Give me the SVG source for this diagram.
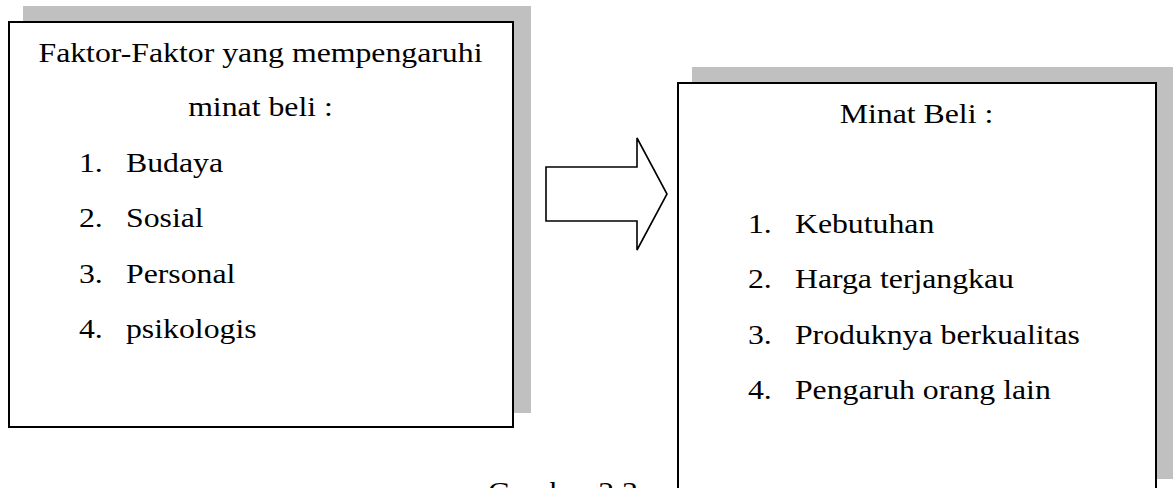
<svg xmlns="http://www.w3.org/2000/svg" width="1176" height="488" viewBox="0 0 1176 488">
<style>
.shadow{fill:#c0c0c0;stroke:none}
.box{fill:#fff;stroke:#000;stroke-width:2}
.arrow{fill:#fff;stroke:#000;stroke-width:1.6;stroke-linejoin:miter}
text{font-family:"Liberation Serif","Times New Roman",serif;font-size:28px;fill:#000}
.c{text-anchor:middle}
</style>
<rect width="1176" height="488" fill="#fff"/>
<g id="caption">
<text transform="matrix(1.135,0,0,1,0,0)" x="430" y="501">Gambar 2.3</text>
</g>
<g id="node-faktor">
<rect class="shadow" x="23" y="6" width="508" height="407"/>
<rect class="box" x="9" y="22" width="504" height="405"/>
<g transform="matrix(1.135,0,0,1,0,0)">
<text class="c" x="229.5" y="62">Faktor-Faktor yang mempengaruhi</text>
<text class="c" x="229.5" y="116">minat beli :</text>
<text x="69.6" y="172">1.</text><text x="111" y="172">Budaya</text>
<text x="69.6" y="227">2.</text><text x="111" y="227">Sosial</text>
<text x="69.6" y="283">3.</text><text x="111" y="283">Personal</text>
<text x="69.6" y="338">4.</text><text x="111" y="338">psikologis</text>
</g>
</g>
<g id="connectors">
<polygon class="arrow" points="546,167 637,167 637,138 667,194 637,250 637,221 546,221"/>
</g>
<g id="node-minat">
<rect class="shadow" x="692" y="67" width="481" height="412"/>
<rect class="box" x="678" y="83" width="478" height="420"/>
<g transform="matrix(1.135,0,0,1,0,0)">
<text class="c" x="807.5" y="123">Minat Beli :</text>
<text x="659" y="233">1.</text><text x="700.4" y="233">Kebutuhan</text>
<text x="659" y="288">2.</text><text x="700.4" y="288">Harga terjangkau</text>
<text x="659" y="344">3.</text><text x="700.4" y="344">Produknya berkualitas</text>
<text x="659" y="399">4.</text><text x="700.4" y="399">Pengaruh orang lain</text>
</g>
</g>
</svg>
